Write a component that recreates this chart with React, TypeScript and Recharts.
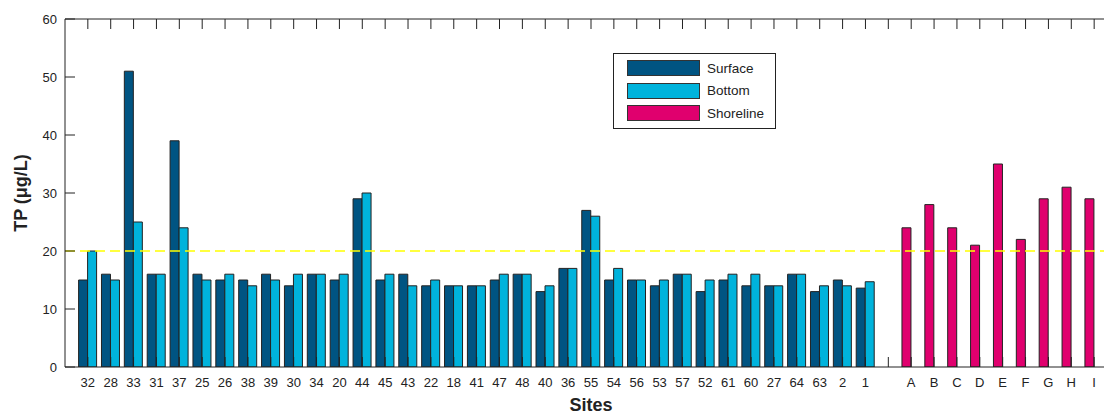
import { BarChart, Bar, XAxis, YAxis, ReferenceLine, Legend } from 'recharts';

// Lake sites, sampled at the surface and near the bottom
const SITES = [
  '32', '28', '33', '31', '37', '25', '26', '38', '39', '30', '34', '20', '44', '45', '43', '22', '18', '41',
  '47', '48', '40', '36', '55', '54', '56', '53', '57', '52', '61', '60', '27', '64', '63', '2', '1',
];
const SURFACE = [
  15, 16, 51, 16, 39, 16, 15, 15, 16, 14, 16, 15, 29, 15, 16, 14, 14, 14,
  15, 16, 13, 17, 27, 15, 15, 14, 16, 13, 15, 14, 14, 16, 13, 15, 13.6,
];
const BOTTOM = [
  20, 15, 25, 16, 24, 15, 16, 14, 15, 16, 16, 16, 30, 16, 14, 15, 14, 14,
  16, 16, 14, 17, 26, 17, 15, 15, 16, 15, 16, 16, 14, 16, 14, 14, 14.7,
];

// Shoreline sites
const SHORE_SITES = ['A', 'B', 'C', 'D', 'E', 'F', 'G', 'H', 'I'];
const SHORELINE = [24, 28, 24, 21, 35, 22, 29, 31, 29];

const Y_TICKS = [0, 10, 20, 30, 40, 50, 60];
const Y_MAX = 60;
const THRESHOLD = 20;

const COLORS = { surface: '#005482', bottom: '#00B3DC', shoreline: '#E0006E' };
const SERIES = [
  { name: 'Surface', color: COLORS.surface },
  { name: 'Bottom', color: COLORS.bottom },
  { name: 'Shoreline', color: COLORS.shoreline },
];

const FONT = '"Liberation Sans", Arial, sans-serif';
const INK = '#222';

const CHART_W = 1120;
const CHART_H = 415;
const MARGIN = { top: 19, right: 3, bottom: 0, left: 0 };
const Y_AXIS_W = 65;
const X_AXIS_H = 48;
const PLOT_TOP = MARGIN.top;
const PLOT_BOTTOM = CHART_H - MARGIN.bottom - X_AXIS_H;
const PLOT_LEFT = MARGIN.left + Y_AXIS_W;
const TICK_LEN = 10;

// lake sites, one empty slot, then shoreline sites
const data = [
  ...SITES.map((site, i) => ({ site, surface: SURFACE[i], bottom: BOTTOM[i], shoreline: null })),
  { site: '', surface: null, bottom: null, shoreline: null },
  ...SHORE_SITES.map((site, i) => ({ site, surface: null, bottom: null, shoreline: SHORELINE[i] })),
];

// inward tick marks on the bottom and top frame, label below
const SiteTick = ({ x, payload }: any) => (
  <g>
    <line x1={x} x2={x} y1={PLOT_BOTTOM} y2={PLOT_BOTTOM - TICK_LEN} stroke={INK} />
    <line x1={x} x2={x} y1={PLOT_TOP} y2={PLOT_TOP + TICK_LEN} stroke={INK} />
    <text x={x} y={PLOT_BOTTOM + 20} textAnchor="middle" fontSize={13} fill={INK} fontFamily={FONT}>
      {payload.value}
    </text>
  </g>
);

const TpTick = ({ y, payload }: any) => (
  <g>
    <line x1={PLOT_LEFT} x2={PLOT_LEFT + TICK_LEN} y1={y} y2={y} stroke={INK} />
    <text x={PLOT_LEFT - 8} y={y} dy={4.5} textAnchor="end" fontSize={13} fill={INK} fontFamily={FONT}>
      {payload.value}
    </text>
  </g>
);

const LegendBox = () => (
  <div
    style={{
      border: `1px solid ${INK}`,
      background: '#fff',
      height: 76,
      boxSizing: 'border-box',
      padding: '6px 0 0 13px',
      fontFamily: FONT,
      fontSize: 13.5,
      color: INK,
    }}
  >
    {SERIES.map(s => (
      <div key={s.name} style={{ display: 'flex', alignItems: 'center', height: 16, marginBottom: 6.5 }}>
        <div
          style={{
            width: 73,
            height: 16,
            boxSizing: 'border-box',
            background: s.color,
            border: '1px solid #333',
            marginRight: 7,
          }}
        />
        <span>{s.name}</span>
      </div>
    ))}
  </div>
);

export default function App() {
  return (
    <div style={{ position: 'absolute', left: 0, top: 0, width: 1104, height: 415, overflow: 'hidden', background: '#fff' }}>
      <BarChart
        width={CHART_W}
        height={CHART_H}
        data={data}
        margin={MARGIN}
        barGap={0}
        barCategoryGap={2.2}
        style={{ fontFamily: FONT }}
      >
        <XAxis
          dataKey="site"
          interval={0}
          padding={{ left: 11.4, right: 11.4 }}
          height={X_AXIS_H}
          axisLine={{ stroke: INK }}
          tickLine={false}
          tick={<SiteTick />}
          label={{
            value: 'Sites',
            position: 'insideBottom',
            offset: 4,
            style: { fontSize: 18, fontWeight: 'bold', fill: INK, fontFamily: FONT },
          }}
        />
        <YAxis
          width={Y_AXIS_W}
          domain={[0, Y_MAX]}
          ticks={Y_TICKS}
          allowDataOverflow
          axisLine={{ stroke: INK }}
          tickLine={false}
          tick={<TpTick />}
          label={{
            value: 'TP (μg/L)',
            angle: -90,
            position: 'insideLeft',
            offset: 21,
            style: { fontSize: 18, fontWeight: 'bold', fill: INK, fontFamily: FONT, textAnchor: 'middle' },
          }}
        />
        <Legend
          layout="vertical"
          verticalAlign="middle"
          align="center"
          wrapperStyle={{ left: 613, top: 53, width: 163 }}
          content={() => <LegendBox />}
        />
        <Bar dataKey="surface" name="Surface" stackId="left" fill={COLORS.surface} stroke={INK} isAnimationActive={false} />
        <Bar dataKey="shoreline" name="Shoreline" stackId="left" fill={COLORS.shoreline} stroke={INK} isAnimationActive={false} />
        <Bar dataKey="bottom" name="Bottom" fill={COLORS.bottom} stroke={INK} isAnimationActive={false} />
        <ReferenceLine y={THRESHOLD} stroke="#FFFF00" strokeWidth={1.5} strokeDasharray="10 5" />
        {/* top edge of the frame */}
        <ReferenceLine y={Y_MAX} stroke={INK} />
      </BarChart>
    </div>
  );
}
